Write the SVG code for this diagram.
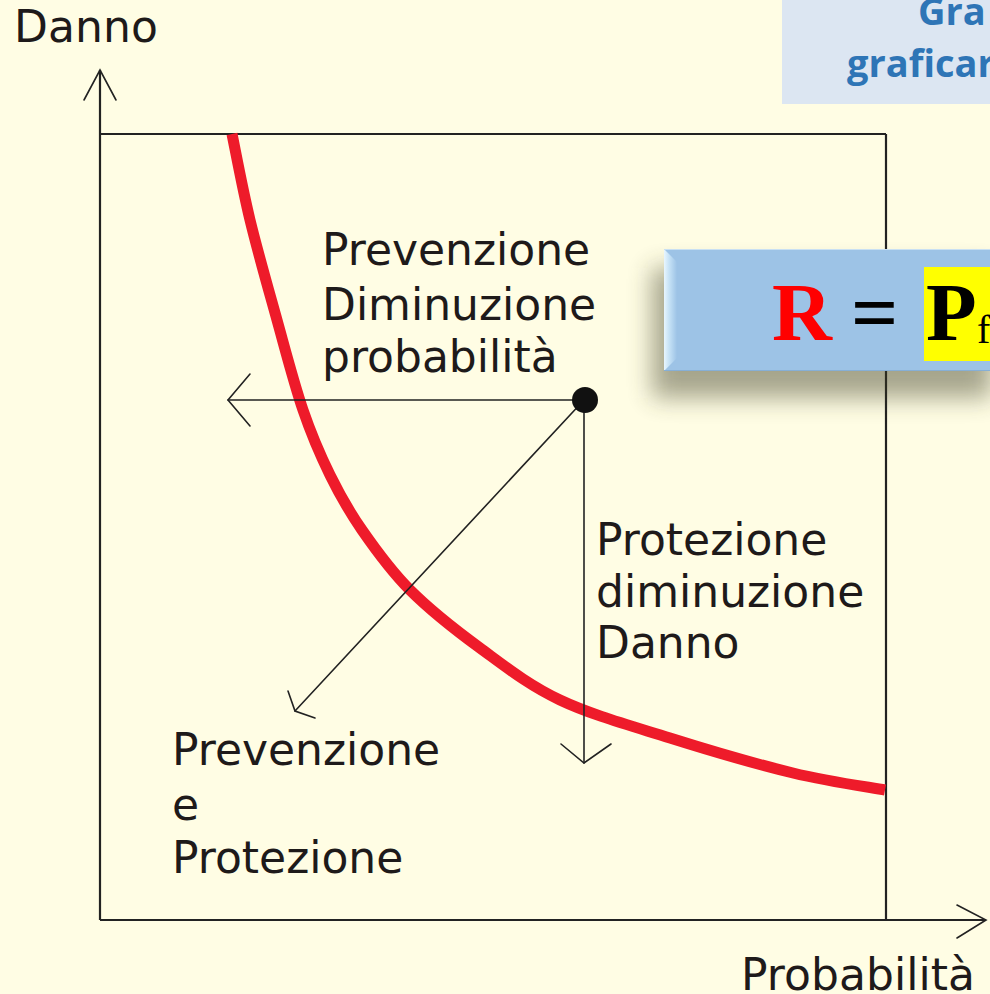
<svg xmlns="http://www.w3.org/2000/svg" width="990" height="994" viewBox="0 0 990 994">
  <defs>
    <style>
      .lbl { font-family: "DejaVu Sans", Verdana, sans-serif; font-size: 44px; fill: #1e1a1a; }
      .axis { stroke: #222; stroke-width: 2.2; fill: none; }
      .arr { stroke: #222; stroke-width: 1.6; fill: none; stroke-linecap: round; }
      .title { font-family: "Open Sans", "Liberation Sans", sans-serif; font-weight: bold; font-size: 38px; fill: #2E75B6; }
      .frm { font-family: "Liberation Serif", "Times New Roman", serif; font-weight: bold; font-size: 83px; }
    </style>
    <filter id="shadow" x="-30%" y="-50%" width="160%" height="220%">
      <feGaussianBlur stdDeviation="12"/>
    </filter>
    <linearGradient id="bevel" x1="0" y1="0" x2="1" y2="0">
      <stop offset="0" stop-color="#E8F6FF"/>
      <stop offset="0.4" stop-color="#C6E2F6"/>
      <stop offset="1" stop-color="#9DC3E6"/>
    </linearGradient>
  </defs>

  <rect x="0" y="0" width="990" height="994" fill="#FFFDE4"/>

  <g id="title-box">
    <rect x="782" y="0" width="208" height="104" fill="#DCE6F2"/>
    <text class="title" x="918" y="25">Gra</text>
    <text class="title" x="847" y="77">graficar</text>
  </g>

  <g id="axes">
    <line class="axis" x1="100" y1="920" x2="100" y2="70"/>
    <polyline class="arr" points="84,100 100,70 116,100"/>
    <line class="axis" x1="100" y1="920" x2="986" y2="920"/>
    <polyline class="arr" points="957,905 986,920 957,938"/>
    <line class="axis" x1="100" y1="134" x2="886" y2="134"/>
    <line class="axis" x1="886" y1="134" x2="886" y2="920"/>
    <text class="lbl" x="14" y="42" font-size="41" textLength="144">Danno</text>
    <text class="lbl" x="741" y="990" font-size="41" textLength="234">Probabilità</text>
  </g>

  <g id="curve">
    <path d="M232,134 C235,148.3 242.5,189 250,220 C257.5,251 268.2,288.3 277,320 C285.8,351.7 294.2,384.2 303,410 C311.8,435.8 320.2,455 330,475 C339.8,495 348.7,510.8 362,530 C375.3,549.2 390.3,570.3 410,590 C429.7,609.7 455,629.7 480,648 C505,666.3 528.3,685 560,700 C591.7,715 631.2,725.8 670,738 C708.8,750.2 757.2,764.3 793,773 C828.8,781.7 869.7,787.2 885,790" fill="none" stroke="#EE1B2A" stroke-width="11" stroke-linecap="butt"/>
  </g>

  <g id="connectors">
    <line class="arr" x1="584" y1="400" x2="228" y2="400"/>
    <polyline class="arr" points="250,374 228,400 250,426"/>
    <line class="arr" x1="584" y1="400" x2="584" y2="763"/>
    <polyline class="arr" points="561,744 584,763 611,744"/>
    <line class="arr" x1="584" y1="400" x2="295" y2="711"/>
    <polyline class="arr" points="288,691 295,711 315,718"/>
  </g>

  <g id="point">
    <circle cx="585" cy="400" r="13" fill="#111"/>
  </g>

  <g id="label-prevenzione">
    <text class="lbl" x="322" y="265">Prevenzione</text>
    <text class="lbl" x="322" y="320">Diminuzione</text>
    <text class="lbl" x="322" y="372">probabilità</text>
  </g>

  <g id="label-protezione">
    <text class="lbl" x="596" y="555">Protezione</text>
    <text class="lbl" x="596" y="607">diminuzione</text>
    <text class="lbl" x="596" y="658">Danno</text>
  </g>

  <g id="label-prev-prot">
    <text class="lbl" x="172" y="765">Prevenzione</text>
    <text class="lbl" x="172" y="820">e</text>
    <text class="lbl" x="172" y="873">Protezione</text>
  </g>

  <g id="formula-box">
    <rect x="652" y="268" width="340" height="130" fill="#3a3a20" opacity="0.45" filter="url(#shadow)"/>
    <rect x="664" y="249" width="326" height="122" fill="#9DC3E6"/>
    <polygon points="664,249 677,262 677,358 664,371" fill="url(#bevel)"/>
    <line x1="664" y1="249.5" x2="990" y2="249.5" stroke="#C9E0F3" stroke-width="1"/>
    <line x1="664" y1="370.5" x2="990" y2="370.5" stroke="#86AFD6" stroke-width="1"/>
    <rect x="924" y="267" width="66" height="94" fill="#FFFF00"/>
    <text class="frm" x="772" y="340" fill="#FF0000">R</text>
    <text class="frm" x="851" y="340" fill="#000">=</text>
    <text class="frm" x="926" y="340" fill="#000">P</text>
    <text x="977" y="343" font-family="'Liberation Serif', 'Times New Roman', serif" font-size="40" fill="#000">f</text>
  </g>
</svg>
